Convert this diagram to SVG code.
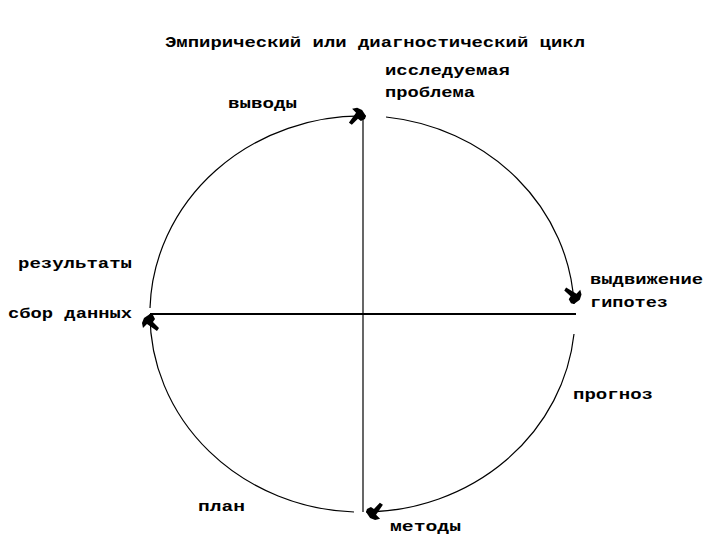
<svg xmlns="http://www.w3.org/2000/svg" width="720" height="540" viewBox="0 0 720 540">
<style>
.t{font-family:"Liberation Mono","DejaVu Sans Mono",monospace;font-weight:bold;font-size:15px;fill:#000}
.arc{fill:none;stroke:#000;stroke-width:1.2}
</style>
<defs>
<marker id="ah" markerWidth="22" markerHeight="22" refX="17" refY="11" orient="auto" markerUnits="userSpaceOnUse">
<path d="M17,11 L13,5 L8,3 L3,4 L7,8 L0,18 L3,20 L9,14 L12,16 L16,14 Z" fill="#000"/>
</marker>
</defs>
<rect width="720" height="540" fill="#fff"/>
<g id="title"><text class="t" x="165" y="47" textLength="420" lengthAdjust="spacingAndGlyphs">Эмпирический или диагностический цикл</text></g>
<g id="connectors">
<line x1="363" y1="114" x2="363" y2="512" stroke="#000" stroke-width="1.2"/>
<line x1="150" y1="314" x2="576" y2="314" stroke="#000" stroke-width="2.2"/>
<path class="arc" d="M150,308 A212,198 0 0 1 366,116" marker-end="url(#ah)"/>
<path class="arc" d="M386,117 A212,198 0 0 1 574,304" marker-end="url(#ah)"/>
<path class="arc" d="M574,334 A212,198 0 0 1 366,512" marker-end="url(#ah)"/>
<path class="arc" d="M354,512 A212,198 0 0 1 150,314" marker-end="url(#ah)"/>
</g>
<g id="n-problem"><text class="t" x="385" y="75" textLength="125" lengthAdjust="spacingAndGlyphs">исследуемая</text><text class="t" x="385" y="97" textLength="90" lengthAdjust="spacingAndGlyphs">проблема</text></g>
<g id="n-hypothesis"><text class="t" x="590" y="284" textLength="113" lengthAdjust="spacingAndGlyphs">выдвижение</text><text class="t" x="590" y="307" textLength="78" lengthAdjust="spacingAndGlyphs">гипотез</text></g>
<g id="n-forecast"><text class="t" x="573" y="399" textLength="80" lengthAdjust="spacingAndGlyphs">прогноз</text></g>
<g id="n-methods"><text class="t" x="390" y="531" textLength="71" lengthAdjust="spacingAndGlyphs">методы</text></g>
<g id="n-plan"><text class="t" x="198" y="511" textLength="47" lengthAdjust="spacingAndGlyphs">план</text></g>
<g id="n-data"><text class="t" x="8" y="318" textLength="124" lengthAdjust="spacingAndGlyphs">сбор данных</text></g>
<g id="n-results"><text class="t" x="18" y="268" textLength="114" lengthAdjust="spacingAndGlyphs">результаты</text></g>
<g id="n-conclusions"><text class="t" x="228" y="108" textLength="69" lengthAdjust="spacingAndGlyphs">выводы</text></g>
</svg>
